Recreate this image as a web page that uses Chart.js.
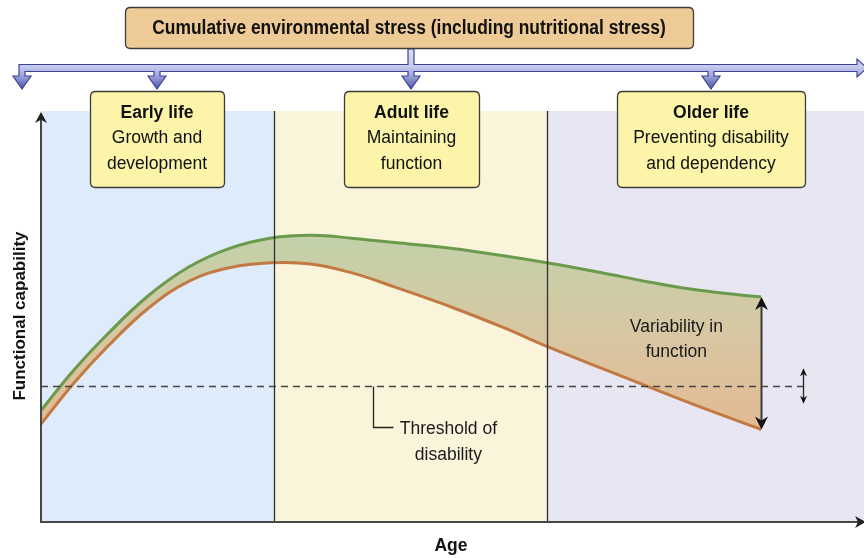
<!DOCTYPE html>
<html>
<head>
<meta charset="utf-8">
<title>Functional capability across the life course</title>
<script src="https://cdn.jsdelivr.net/npm/chart.js@4.4.1/dist/chart.umd.min.js"></script>
<style>
  html, body { margin: 0; padding: 0; background: #ffffff; }
  #wrap { width: 864px; height: 558px; position: relative; }
</style>
</head>
<body>
<div id="wrap"><canvas id="lifeCourse" width="864" height="558"></canvas></div>
<script>
// Age axis (relative units, 0–100) and functional capability (0–100)
const ages          = [0,     4,     8,     13,    18,    23,    28,    33,    38,    43,    50,    56,    62,    68,    74,    80,    87.5];
const bestFunction  = [27.13, 36.96, 45.55, 54.99, 62.09, 66.64, 69.12, 69.76, 69.00, 68.00, 66.55, 64.84, 62.90, 60.71, 58.35, 56.37, 54.74];
const worstFunction = [23.84, 33.80, 42.51, 51.95, 58.61, 61.92, 63.09, 62.73, 60.49, 57.15, 52.19, 47.45, 42.29, 37.49, 32.73, 28.05, 22.51];

const stageNames  = ['Early life', 'Adult life', 'Older life'];
const stageAims   = [['Growth and', 'development'], ['Maintaining', 'function'], ['Preventing disability', 'and dependency']];
const stageBounds = [0, 28.3, 61.5, 100];
const stageColors = ['#deebfb', '#faf4da', '#e8e6f3'];

const disabilityThreshold = 33.1;
const thresholdSpread     = 4.3;   // small shift of the threshold
const headerText = 'Cumulative environmental stress (including nutritional stress)';
const yTitle = 'Functional capability';
const xTitle = 'Age';
const thresholdLabel = ['Threshold of', 'disability'];
const variabilityLabel = ['Variability in', 'function'];

const FONT = '"Liberation Sans", Arial, sans-serif';

function toPoints(xs, ys) { return xs.map((x, i) => ({ x: x, y: ys[i] })); }

// text drawn with a slight horizontal squeeze
function narrowText(ctx, text, x, y, sx) {
  ctx.save();
  ctx.translate(x, y);
  ctx.scale(sx, 1);
  ctx.fillText(text, 0, 0);
  ctx.restore();
}

function roundRect(ctx, x, y, w, h, r) {
  ctx.beginPath();
  ctx.moveTo(x + r, y);
  ctx.lineTo(x + w - r, y);
  ctx.quadraticCurveTo(x + w, y, x + w, y + r);
  ctx.lineTo(x + w, y + h - r);
  ctx.quadraticCurveTo(x + w, y + h, x + w - r, y + h);
  ctx.lineTo(x + r, y + h);
  ctx.quadraticCurveTo(x, y + h, x, y + h - r);
  ctx.lineTo(x, y + r);
  ctx.quadraticCurveTo(x, y, x + r, y);
  ctx.closePath();
}

function arrowHead(ctx, x, y, dir, w, h) {
  // dir = -1 pointing up, +1 pointing down
  ctx.beginPath();
  ctx.moveTo(x, y);
  ctx.lineTo(x - w / 2, y - dir * h);
  ctx.lineTo(x, y - dir * h * 0.7);
  ctx.lineTo(x + w / 2, y - dir * h);
  ctx.closePath();
  ctx.fill();
}

// Stage backgrounds behind everything
const stageBackground = {
  id: 'stageBackground',
  beforeDraw(chart) {
    const { ctx, chartArea, scales } = chart;
    const xs = scales.x;
    ctx.save();
    for (let i = 0; i < stageNames.length; i++) {
      const x0 = xs.getPixelForValue(stageBounds[i]);
      const x1 = xs.getPixelForValue(stageBounds[i + 1]);
      ctx.fillStyle = stageColors[i];
      ctx.fillRect(x0, chartArea.top, x1 - x0, chartArea.bottom - chartArea.top);
    }
    ctx.restore();
  }
};

// Separators, threshold, arrows, labels and header
const overlay = {
  id: 'overlay',
  afterDatasetsDraw(chart) {
    const { ctx, chartArea, scales } = chart;
    const xs = scales.x, ys = scales.y;
    ctx.save();

    // stage separators
    ctx.strokeStyle = '#2f2f2f';
    ctx.lineWidth = 1.3;
    for (let i = 1; i < stageBounds.length - 1; i++) {
      const x = Math.round(xs.getPixelForValue(stageBounds[i])) + 0.5;
      ctx.beginPath();
      ctx.moveTo(x, chartArea.top);
      ctx.lineTo(x, chartArea.bottom);
      ctx.stroke();
    }

    // disability threshold
    const ty = Math.round(ys.getPixelForValue(disabilityThreshold)) + 0.5;
    const endAge = ages[ages.length - 1];
    const smallArrowX = xs.getPixelForValue(92.6);
    ctx.strokeStyle = '#444';
    ctx.lineWidth = 1.5;
    ctx.setLineDash([7, 5]);
    ctx.beginPath();
    ctx.moveTo(chartArea.left, ty);
    ctx.lineTo(smallArrowX, ty);
    ctx.stroke();
    ctx.setLineDash([]);

    // threshold leader line and label
    const lx = Math.round(xs.getPixelForValue(40.3)) + 0.5;
    const ly = Math.round(ys.getPixelForValue(23.0)) + 0.5;
    ctx.strokeStyle = '#222';
    ctx.lineWidth = 1.3;
    ctx.beginPath();
    ctx.moveTo(lx, ty);
    ctx.lineTo(lx, ly);
    ctx.lineTo(lx + 20, ly);
    ctx.stroke();

    ctx.fillStyle = '#1a1a1a';
    ctx.font = '17.5px ' + FONT;
    ctx.textAlign = 'center';
    ctx.textBaseline = 'middle';
    const tlx = xs.getPixelForValue(49.5);
    ctx.fillText(thresholdLabel[0], tlx, ly + 2);
    ctx.fillText(thresholdLabel[1], tlx, ly + 28);

    // variability arrow at the end of the curves
    const ax = Math.round(xs.getPixelForValue(endAge)) + 0.5;
    const topY = ys.getPixelForValue(bestFunction[bestFunction.length - 1]);
    const botY = ys.getPixelForValue(worstFunction[worstFunction.length - 1]);
    ctx.strokeStyle = '#3a3a3a';
    ctx.lineWidth = 2;
    ctx.beginPath();
    ctx.moveTo(ax, topY + 8);
    ctx.lineTo(ax, botY - 8);
    ctx.stroke();
    ctx.fillStyle = '#111';
    arrowHead(ctx, ax, topY, -1, 13, 13);
    arrowHead(ctx, ax, botY, 1, 13, 13);

    // small arrow on the threshold
    const sx = Math.round(smallArrowX) + 0.5;
    const sTop = ys.getPixelForValue(disabilityThreshold + thresholdSpread);
    const sBot = ys.getPixelForValue(disabilityThreshold - thresholdSpread);
    ctx.strokeStyle = '#222';
    ctx.lineWidth = 1.3;
    ctx.beginPath();
    ctx.moveTo(sx, sTop + 4);
    ctx.lineTo(sx, sBot - 4);
    ctx.stroke();
    arrowHead(ctx, sx, sTop, -1, 7, 8);
    arrowHead(ctx, sx, sBot, 1, 7, 8);

    // variability label
    ctx.fillStyle = '#1a1a1a';
    const vx = xs.getPixelForValue(77.2);
    ctx.fillText(variabilityLabel[0], vx, ys.getPixelForValue(47.9) + 2);
    ctx.fillText(variabilityLabel[1], vx, ys.getPixelForValue(41.8) + 2);

    ctx.restore();
  },
  afterDraw(chart) {
    const { ctx, chartArea } = chart;
    ctx.save();

    // axes with arrowheads
    ctx.strokeStyle = '#474747';
    ctx.fillStyle = '#222';
    ctx.lineWidth = 2;
    ctx.beginPath();
    ctx.moveTo(chartArea.left, chartArea.top + 4);
    ctx.lineTo(chartArea.left, chartArea.bottom);
    ctx.lineTo(chartArea.right, chartArea.bottom);
    ctx.stroke();
    arrowHead(ctx, chartArea.left, chartArea.top + 1, -1, 12, 11);
    ctx.beginPath();
    ctx.moveTo(chartArea.right + 2, chartArea.bottom);
    ctx.lineTo(chartArea.right - 9, chartArea.bottom - 6);
    ctx.lineTo(chartArea.right - 6, chartArea.bottom);
    ctx.lineTo(chartArea.right - 9, chartArea.bottom + 6);
    ctx.closePath();
    ctx.fill();

    // axis titles
    ctx.fillStyle = '#111';
    ctx.font = 'bold 17.5px ' + FONT;
    ctx.textAlign = 'center';
    ctx.textBaseline = 'middle';
    ctx.fillText(xTitle, 451, chartArea.bottom + 24);
    ctx.save();
    ctx.translate(20, 316);
    ctx.rotate(-Math.PI / 2);
    ctx.font = 'bold 17px ' + FONT;
    ctx.fillText(yTitle, 0, 0);
    ctx.restore();

    // stress distribution arrows
    const yTop = 64.5, yBot = 71.5, headY = 76, tipY = 89, stem = 3, half = 9;
    const downs = [711, 411, 157];
    const g = ctx.createLinearGradient(0, 49, 0, 89);
    g.addColorStop(0, '#dde0f6');
    g.addColorStop(0.45, '#c4c9ee');
    g.addColorStop(0.62, '#a9afe2');
    g.addColorStop(1, '#4e56a6');
    ctx.beginPath();
    ctx.moveTo(19, yTop);
    ctx.lineTo(411 - stem, yTop);
    ctx.lineTo(411 - stem, 49);
    ctx.lineTo(411 + stem, 49);
    ctx.lineTo(411 + stem, yTop);
    ctx.lineTo(857, yTop);
    ctx.lineTo(857, 59);
    ctx.lineTo(867, 68);
    ctx.lineTo(857, 77);
    ctx.lineTo(857, yBot);
    downs.forEach(cx => {
      ctx.lineTo(cx + stem, yBot);
      ctx.lineTo(cx + stem, headY);
      ctx.lineTo(cx + half, headY);
      ctx.lineTo(cx, tipY);
      ctx.lineTo(cx - half, headY);
      ctx.lineTo(cx - stem, headY);
      ctx.lineTo(cx - stem, yBot);
    });
    ctx.lineTo(25, yBot);
    ctx.lineTo(25, headY);
    ctx.lineTo(22 + half, headY);
    ctx.lineTo(22, tipY);
    ctx.lineTo(22 - half, headY);
    ctx.lineTo(19, headY);
    ctx.closePath();
    ctx.fillStyle = g;
    ctx.fill();
    ctx.strokeStyle = '#3d4494';
    ctx.lineWidth = 1.2;
    ctx.lineJoin = 'miter';
    ctx.stroke();

    // header box
    roundRect(ctx, 125.5, 7.5, 568, 41, 5);
    ctx.fillStyle = '#edca96';
    ctx.fill();
    ctx.strokeStyle = '#3c3c3c';
    ctx.lineWidth = 1.3;
    ctx.stroke();
    ctx.fillStyle = '#111';
    ctx.font = 'bold 20px ' + FONT;
    narrowText(ctx, headerText, 409, 28.5, 0.87);

    // stage boxes
    const boxes = [{ cx: 157, w: 134 }, { cx: 411.5, w: 135 }, { cx: 711, w: 188 }];
    boxes.forEach((b, i) => {
      roundRect(ctx, Math.round(b.cx - b.w / 2) + 0.5, 91.5, b.w, 96, 5);
      ctx.fillStyle = '#fcf4a8';
      ctx.fill();
      ctx.strokeStyle = '#3c3c3c';
      ctx.lineWidth = 1.3;
      ctx.stroke();
      ctx.fillStyle = '#111';
      ctx.font = 'bold 17.5px ' + FONT;
      ctx.fillText(stageNames[i], b.cx, 113.5);
      ctx.font = '17.5px ' + FONT;
      ctx.fillText(stageAims[i][0], b.cx, 138.5);
      ctx.fillText(stageAims[i][1], b.cx, 164);
    });

    ctx.restore();
  }
};

const ctx = document.getElementById('lifeCourse').getContext('2d');

function bandFill(context) {
  const area = context.chart.chartArea;
  if (!area) return 'rgba(210,195,160,0.9)';
  const y0 = context.chart.scales.y.getPixelForValue(70);
  const y1 = context.chart.scales.y.getPixelForValue(22);
  const g = context.chart.ctx.createLinearGradient(0, y0, 0, y1);
  g.addColorStop(0, '#c2d2a9');
  g.addColorStop(0.5, '#d7c7a3');
  g.addColorStop(1, '#e4b992');
  return g;
}

new Chart(ctx, {
  type: 'line',
  data: {
    datasets: [
      {
        label: 'Highest function',
        data: toPoints(ages, bestFunction),
        borderColor: '#6b9a4c',
        borderWidth: 3,
        pointRadius: 0,
        tension: 0.4,
        fill: '+1',
        backgroundColor: bandFill
      },
      {
        label: 'Lowest function',
        data: toPoints(ages, worstFunction),
        borderColor: '#c27a42',
        borderWidth: 3,
        pointRadius: 0,
        tension: 0.4,
        fill: false
      }
    ]
  },
  options: {
    responsive: false,
    animation: false,
    layout: { padding: { left: 41, top: 111, right: 0, bottom: 36 } },
    scales: {
      x: { type: 'linear', min: 0, max: 100, display: false },
      y: { min: 0, max: 100, display: false }
    },
    plugins: {
      legend: { display: false },
      tooltip: { enabled: false },
      filler: { drawTime: 'beforeDatasetsDraw' }
    },
    clip: false
  },
  plugins: [stageBackground, overlay]
});
</script>
</body>
</html>
